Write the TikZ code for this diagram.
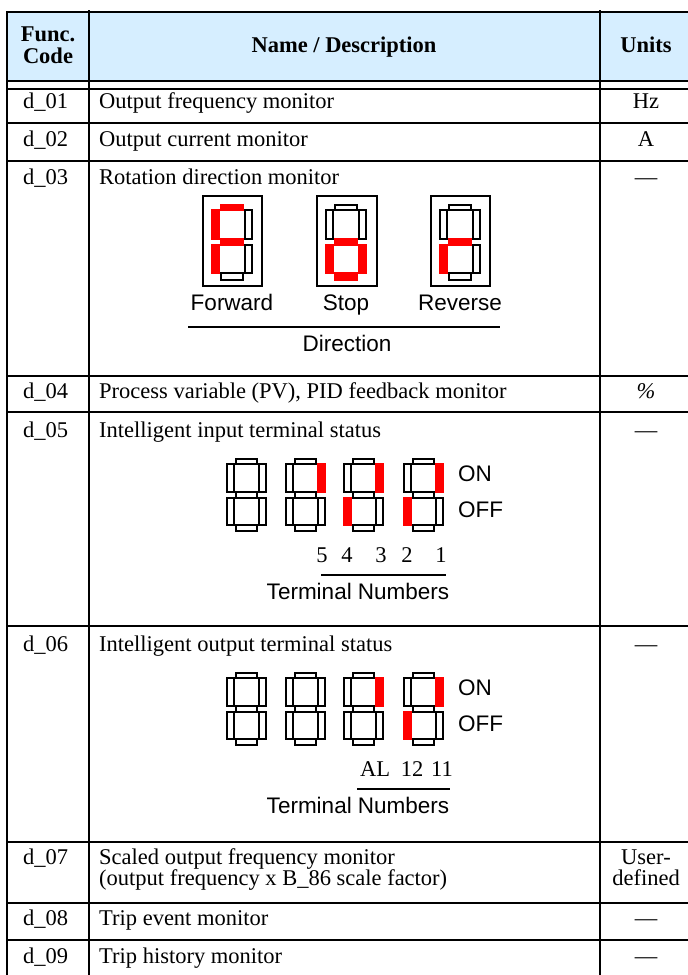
\documentclass[tikz,border=0pt]{standalone}
\usepackage{fontspec}
\setmainfont{Liberation Serif}
\setsansfont{Liberation Sans}
\usepackage{xcolor}
\definecolor{headblue}{HTML}{D6EEFF}
\newcommand{\tablefont}{\fontsize{22.5}{24}\selectfont}
\tikzset{
    rule/.style={line width=2pt},
    celltext/.style={anchor=base west, inner sep=0pt, font=\tablefont},
    unittext/.style={anchor=base, inner sep=0pt, font=\tablefont},
    headtext/.style={anchor=base, inner sep=0pt, font=\tablefont\bfseries},
    signtext/.style={anchor=base, inner sep=0pt, font=\tablefont\sffamily},
    segoff/.style={draw=black, line width=2pt},
    segon/.style={draw=red, fill=red, line width=2pt},
    digitframe/.style={draw=black, line width=2pt}
}
% one digit: left, top, scale, list of red segments
\newcommand{\sevenseg}[4]{
    \begin{scope}[shift={(#1, #2)}, scale=#3]
        \foreach \seg/\xa/\ya/\xb/\yb in {t/10/1/31/6, a/1/6/8/34, b/33/6/40/34, m/10/34/31/40, c/1/40/8/67, d/33/40/40/67, u/10/67/31/73}
            \draw[segoff] (\xa, \ya) rectangle (\xb, \yb);
        \foreach \seg/\xa/\ya/\xb/\yb in {#4}
            \draw[segon] (\xa, \ya) rectangle (\xb, \yb);
    \end{scope}
}
\begin{document}
\begin{tikzpicture}[x=1pt, y=-1pt]
    \useasboundingbox (0, 0) rectangle (688, 975);
    \fill[headblue] (7, 12) rectangle (688, 81);
    % table rules
    \foreach \rowy in {12, 81, 89, 123, 161, 376, 412, 626, 842, 903, 940}
        \draw[rule] (6, \rowy) -- (688, \rowy);
    \draw[rule] (7, 11) -- (7, 975);
    \draw[rule] (89, 10) -- (89, 975);
    \draw[rule] (600, 10) -- (600, 975);
    % header
    \node[headtext] (funchead) at (48, 41) {Func.};
    \node[headtext] (codehead) at (48, 63) {Code};
    \node[headtext] (namehead) at (344, 52) {Name / Description};
    \node[headtext] (unithead) at (646, 52) {Units};
    % rows
    \foreach \rowname/\rowy/\rowtext/\rowunit in {
        01/108/Output frequency monitor/Hz,
        02/146/Output current monitor/A,
        03/184/Rotation direction monitor/---,
        04/398/{Process variable (PV), PID feedback monitor}/\textit{\%},
        05/437/Intelligent input terminal status/---,
        06/651/Intelligent output terminal status/---,
        07/864/Scaled output frequency monitor/User-,
        08/925/Trip event monitor/---,
        09/963/Trip history monitor/---
    }{
        \node[celltext] (code\rowname) at (23, \rowy) {d\_\rowname};
        \node[celltext] (name\rowname) at (99, \rowy) {\rowtext};
        \node[unittext] (unit\rowname) at (646, \rowy) {\rowunit};
    }
    \node[celltext] (namemore) at (99, 885) {(output frequency x B\_86 scale factor)};
    \node[unittext] (unitmore) at (646, 885) {defined};
    % direction digits
    \draw[digitframe] (203, 196) rectangle (262, 286);
    \draw[digitframe] (317, 196) rectangle (376.5, 286);
    \draw[digitframe] (431, 196) rectangle (490, 286);
    \sevenseg{211}{204}{1.035}{t/10/1/31/6, a/1/6/8/34, m/10/34/31/40, c/1/40/8/67}
    \sevenseg{325}{204}{1.035}{m/10/34/31/40, c/1/40/8/67, d/33/40/40/67, u/10/67/31/73}
    \sevenseg{439}{204}{1.035}{m/10/34/31/40, c/1/40/8/67}
    \node[signtext] (forward) at (232, 310) {Forward};
    \node[signtext] (stop) at (346, 310) {Stop};
    \node[signtext] (reverse) at (460, 310) {Reverse};
    \draw[rule] (188, 327) -- (500, 327);
    \node[signtext] (direction) at (347, 351) {Direction};
    % input terminals
    \sevenseg{226}{458}{1}{}
    \sevenseg{285}{458}{1}{b/33/6/40/34}
    \sevenseg{343}{458}{1}{b/33/6/40/34, c/1/40/8/67}
    \sevenseg{403}{458}{1}{b/33/6/40/34, c/1/40/8/67}
    \node[signtext, anchor=base west] (inon) at (458, 481) {ON};
    \node[signtext, anchor=base west] (inoff) at (458, 517) {OFF};
    \foreach \termx/\termname in {322/5, 347/4, 381/3, 407/2, 441/1}
        \node[unittext] (interm\termname) at (\termx, 562) {\termname};
    \draw[rule] (321, 575) -- (446, 575);
    \node[signtext] (interms) at (358, 599) {Terminal Numbers};
    % output terminals
    \sevenseg{226}{672}{1}{}
    \sevenseg{285}{672}{1}{}
    \sevenseg{343}{672}{1}{b/33/6/40/34}
    \sevenseg{403}{672}{1}{b/33/6/40/34, c/1/40/8/67}
    \node[signtext, anchor=base west] (outon) at (458, 695) {ON};
    \node[signtext, anchor=base west] (outoff) at (458, 731) {OFF};
    \foreach \termx/\termname in {375/AL, 412/12, 442/11}
        \node[unittext] (outterm\termname) at (\termx, 776) {\termname};
    \draw[rule] (357, 789) -- (450, 789);
    \node[signtext] (outterms) at (358, 813) {Terminal Numbers};
\end{tikzpicture}
\end{document}
